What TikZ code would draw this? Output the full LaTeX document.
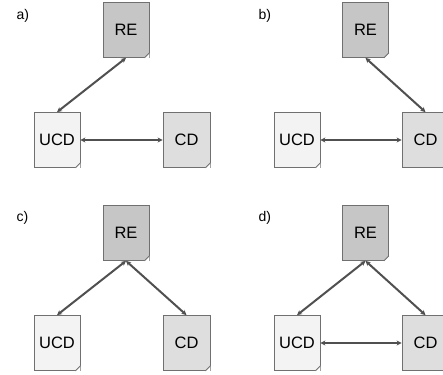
\documentclass[tikz,border=0pt]{standalone}
\usepackage{fontspec}
\setmainfont{Liberation Sans}
\usetikzlibrary{arrows.meta}
\definecolor{refill}{HTML}{C6C6C6}
\definecolor{cdfill}{HTML}{DEDEDE}
\definecolor{ucdfill}{HTML}{F3F3F3}
\definecolor{edge}{HTML}{707070}
\definecolor{link}{HTML}{505050}
\tikzset{
  doc/.style={draw=edge, line width=0.8pt, minimum width=46pt, minimum height=55pt,
    inner sep=0pt, font=\fontsize{16.5}{19}\selectfont},
  redoc/.style={doc, fill=refill},
  cddoc/.style={doc, fill=cdfill},
  ucddoc/.style={doc, fill=ucdfill},
  panel/.style={anchor=west, font=\fontsize{14}{16}\selectfont},
  link/.style={draw=link, line width=2pt, {Stealth[length=5pt,width=5pt]}-{Stealth[length=5pt,width=5pt]}},
}
\newcommand{\docfold}[2]{%
  \fill[white] ([xshift=-5pt]#1.south east) -- (#1.south east) -- ([yshift=5pt]#1.south east) -- cycle;
  \draw[edge, line width=0.8pt, fill=#2] ([xshift=-5pt]#1.south east) -- ([yshift=5pt]#1.south east)
     -- ([xshift=-3pt,yshift=2pt]#1.south east) -- cycle;
}
\begin{document}
\begin{tikzpicture}[x=1pt, y=-1pt]
\useasboundingbox (0,0) rectangle (443,374);
% panel a
\node[panel] (la) at (13,16) {a)};
\node[redoc] (rea) at (126,30) {RE};
\node[ucddoc] (ucda) at (57,140) {UCD};
\node[cddoc, minimum width=47pt] (cda) at (186.5,140) {CD};
% panel b
\node[panel] (lb) at (255,16) {b)};
\node[redoc] (reb) at (365.5,30) {RE};
\node[ucddoc] (ucdb) at (297,140) {UCD};
\node[cddoc, minimum width=47pt] (cdb) at (425.5,140) {CD};
% panel c
\node[panel] (lc) at (13,218) {c)};
\node[redoc] (rec) at (126,233) {RE};
\node[ucddoc] (ucdc) at (57,343) {UCD};
\node[cddoc, minimum width=47pt] (cdc) at (186.5,343) {CD};
% panel d
\node[panel] (ld) at (255,218) {d)};
\node[redoc] (red) at (365.5,233) {RE};
\node[ucddoc] (ucdd) at (297,343) {UCD};
\node[cddoc, minimum width=47pt] (cdd) at (425.5,343) {CD};
% folds
\docfold{rea}{refill}\docfold{ucda}{ucdfill}\docfold{cda}{cdfill}
\docfold{reb}{refill}\docfold{ucdb}{ucdfill}
\docfold{rec}{refill}\docfold{ucdc}{ucdfill}\docfold{cdc}{cdfill}
\docfold{red}{refill}\docfold{ucdd}{ucdfill}
% links
\draw[link] (rea.south) -- (ucda.north);
\draw[link] (ucda.east) -- (cda.west);
\draw[link] (reb.south) -- (cdb.north);
\draw[link] (ucdb.east) -- (cdb.west);
\draw[link] (rec.south) -- (ucdc.north);
\draw[link] (rec.south) -- (cdc.north);
\draw[link] (red.south) -- (ucdd.north);
\draw[link] (red.south) -- (cdd.north);
\draw[link] (ucdd.east) -- (cdd.west);
\end{tikzpicture}
\end{document}
